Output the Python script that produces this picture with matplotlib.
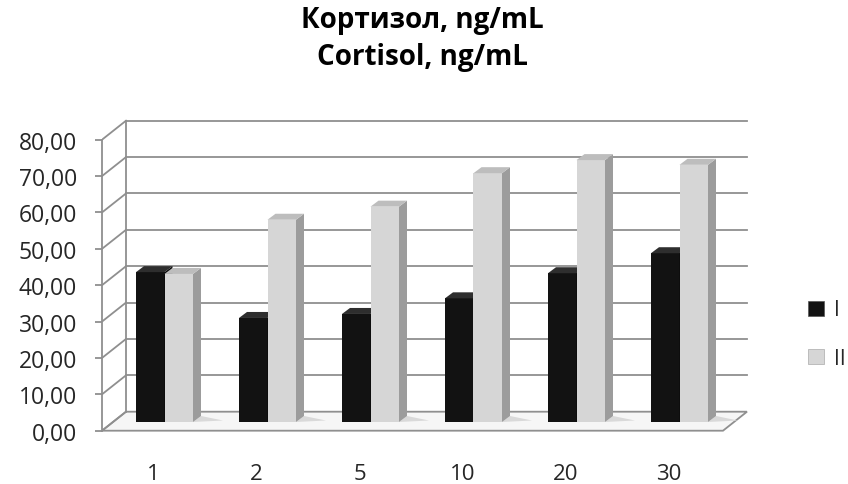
import matplotlib
matplotlib.use('Agg')
import matplotlib.pyplot as plt
from matplotlib.patches import Polygon, Patch
import numpy as np

plt.rcParams['font.family'] = ['Open Sans', 'DejaVu Sans']

# data
categories = ['1', '2', '5', '10', '20', '30']
series_I = [41.2, 28.6, 29.7, 34.0, 40.9, 46.4]
series_II = [40.7, 55.6, 59.2, 68.4, 72.0, 70.7]
yticks = np.arange(0, 90, 10)
ytick_labels = [f'{v:.2f}'.replace('.', ',') for v in yticks]

W_PX, H_PX = 848, 485
fig = plt.figure(figsize=(W_PX / 100, H_PX / 100), dpi=100)

# axes placed so that one category = 103 px, 10 units = 36.4 px
px_per_x = 103.0
px_per_y = 3.6375
ax_left, ax_right, ax_top, ax_bot = 102, 760, 100, 445
ax = fig.add_axes([ax_left / W_PX, (H_PX - ax_bot) / H_PX,
                   (ax_right - ax_left) / W_PX, (ax_bot - ax_top) / H_PX])
x0 = -0.5
ax.set_xlim(x0, x0 + (ax_right - ax_left) / px_per_x)
zero_px = 431.7
ax.set_ylim((zero_px - ax_bot) / px_per_y, (zero_px - ax_top) / px_per_y)

def dx(px):
    return px / px_per_x

def dy(px):
    return px / px_per_y

grid_c = '#8f8f8f'
# wall / floor depth
wdx, wdy = dx(24), dy(19)
x_front_r = x0 + len(categories) + dx(3)

# floor
floor = Polygon([(x0, 0), (x_front_r, 0), (x_front_r + wdx, wdy), (x0 + wdx, wdy)],
                closed=True, facecolor='#f6f6f6', edgecolor=grid_c, lw=1.3, zorder=1)
ax.add_patch(floor)

# back wall + side wall gridlines
for v in yticks:
    if v > 0:
        ax.plot([x0 + wdx, x_front_r + wdx], [v + wdy, v + wdy], color=grid_c, lw=1.3, zorder=1)
    ax.plot([x0, x0 + wdx], [v, v + wdy], color=grid_c, lw=1.3, zorder=1)
ax.plot([x0 + wdx, x0 + wdx], [wdy, yticks[-1] + wdy], color=grid_c, lw=1.3, zorder=1)

# bars (front plane sits halfway into the floor)
x = np.arange(len(categories))
fdx, fdy = dx(11), dy(8.7)
bw = dx(28.5)
bdx, bdy = dx(8), dy(6)

def bar3d(xl, val, front, side, top, z):
    ax.bar(xl, val, width=bw, bottom=fdy, align='edge', color=front, lw=0, zorder=z)
    xr = xl + bw
    t = val + fdy
    ax.add_patch(Polygon([(xr, fdy), (xr + bdx, fdy + bdy), (xr + bdx, t + bdy), (xr, t)],
                         closed=True, facecolor=side, lw=0, zorder=z))
    ax.add_patch(Polygon([(xl, t), (xr, t), (xr + bdx, t + bdy), (xl + bdx, t + bdy)],
                         closed=True, facecolor=top, lw=0, zorder=z))

for i in range(len(categories)):
    xl = x[i] + fdx - bw
    # soft shadow on the floor
    ax.add_patch(Polygon([(xl + 2 * bw, fdy), (xl + 2 * bw + dx(30), fdy + dy(1.5)),
                          (xl + 2 * bw + bdx, fdy + bdy)],
                         closed=True, facecolor='#d9d9d9', lw=0, zorder=2))
    bar3d(xl, series_I[i], '#121212', '#0a0a0a', '#2e2e2e', 3 + 2 * i)
    bar3d(xl + bw, series_II[i], '#d6d6d6', '#9c9c9c', '#bdbdbd', 4 + 2 * i)

# axes decoration
for s in ['top', 'right', 'bottom']:
    ax.spines[s].set_visible(False)
ax.spines['left'].set_bounds(0, yticks[-1])
ax.spines['left'].set_color(grid_c)
ax.spines['left'].set_linewidth(1.3)
ax.set_yticks(yticks)
ax.set_yticklabels(ytick_labels)
ax.tick_params(axis='y', direction='out', length=5, width=1.3, color=grid_c,
               pad=13, labelsize=16.5, labelcolor='#262626')
ax.set_xticks(x)
ax.set_xticklabels(categories)
ax.tick_params(axis='x', length=0, pad=14, labelsize=16, labelcolor='#262626')

# title
fig.text(0.498, 1 - 28 / H_PX, 'Кортизол, ng/mL', ha='center', va='baseline',
         fontsize=20, fontweight='bold')
fig.text(0.498, 1 - 65 / H_PX, 'Cortisol, ng/mL', ha='center', va='baseline',
         fontsize=20, fontweight='bold')

handles = [Patch(facecolor='#121212', edgecolor='#555555', lw=0.5),
           Patch(facecolor='#d6d6d6', edgecolor='#aaaaaa', lw=0.5)]
fig.legend(handles, ['I', 'II'], loc='center left', bbox_to_anchor=(808 / W_PX, 1 - 335 / H_PX),
           frameon=False, fontsize=15, handlelength=0.75, handleheight=0.75,
           handletextpad=0.5, labelspacing=1.3, borderpad=0, borderaxespad=0,
           labelcolor='#262626')

fig.savefig('out.png', dpi=100)
